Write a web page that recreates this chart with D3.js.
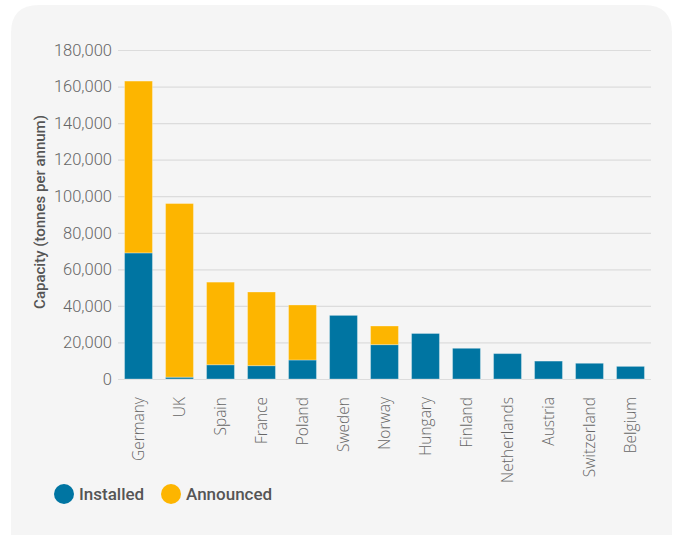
<!DOCTYPE html>
<html>
<head>
<meta charset="utf-8">
<script src="https://cdn.jsdelivr.net/npm/d3@7"></script>
<style>
  html, body { margin: 0; padding: 0; background: #ffffff; }
  #chart { width: 680px; height: 535px; }
  .y-tick text { font-family: Roboto, sans-serif; font-weight: 300; font-size: 16.5px; fill: #666; }
  .x-tick text { font-family: "Open Sans", sans-serif; font-weight: 300; font-size: 15.5px; fill: #666; }
</style>
</head>
<body>
<div id="chart"></div>
<script>
  // ----------------------------DATA-------------------------------//
  const countries = ['Germany', 'UK', 'Spain', 'France', 'Poland', 'Sweden', 'Norway',
    'Hungary', 'Finland', 'Netherlands', 'Austria', 'Switzerland', 'Belgium'];
  const installed = [69000, 1000, 7800, 7300, 10400, 34800, 18800, 24900, 16800, 13900, 9800, 8600, 6900];
  const announced = [94000, 95000, 45200, 40300, 30100, 0, 10200, 0, 0, 0, 0, 0, 0];
  const yTicks = [0, 20000, 40000, 60000, 80000, 100000, 120000, 140000, 160000, 180000];
  const seriesNames = ['Installed', 'Announced'];
  const colors = ['#0075a2', '#fdb500'];

  const width = 680;
  const height = 535;
  const plotLeft = 118;
  const plotRight = 651;
  const plotTop = 50;
  const plotBottom = 379;

  const svg = d3.select('#chart').append('svg')
    .attr('width', width)
    .attr('height', height);

  // card background, rounded top corners
  const r = 28;
  const cx0 = 11, cx1 = 672, cy0 = 5, cy1 = 560;
  svg.append('path')
    .attr('d', `M${cx0},${cy1} L${cx0},${cy0 + r} Q${cx0},${cy0} ${cx0 + r},${cy0} L${cx1 - r},${cy0} Q${cx1},${cy0} ${cx1},${cy0 + r} L${cx1},${cy1} Z`)
    .attr('fill', '#f5f5f5');

  // ----------------------------SCALES-----------------------------//
  const x = d3.scaleBand().domain(countries).range([plotLeft, plotRight]).paddingInner(0.32).paddingOuter(0.16);
  const y = d3.scaleLinear().domain([0, 180000]).range([plotBottom, plotTop]);

  const stackData = countries.map((c, i) => ({ country: c, Installed: installed[i], Announced: announced[i] }));
  const series = d3.stack().keys(seriesNames)(stackData);

  // -----------------------------AXES------------------------------//
  const yAxis = svg.append('g')
    .attr('class', 'y-tick')
    .attr('transform', `translate(${plotLeft},0)`)
    .call(d3.axisLeft(y).tickValues(yTicks).tickSize(0).tickPadding(6)
      .tickFormat(d3.format(',')));
  yAxis.select('.domain').remove();

  svg.append('g')
    .selectAll('line')
    .data(yTicks)
    .join('line')
    .attr('x1', plotLeft)
    .attr('x2', plotRight)
    .attr('y1', d => y(d) + 0.5)
    .attr('y2', d => y(d) + 0.5)
    .attr('stroke', '#dcdcdc')
    .attr('stroke-width', 1.2);

  svg.append('text')
    .attr('transform', `translate(45,212) rotate(-90)`)
    .attr('text-anchor', 'middle')
    .style('font-family', 'Roboto, sans-serif')
    .style('font-weight', 500)
    .style('font-size', '15px')
    .style('fill', '#555')
    .text('Capacity (tonnes per annum)');

  const xAxis = svg.append('g')
    .attr('class', 'x-tick')
    .attr('transform', `translate(0,${plotBottom})`)
    .call(d3.axisBottom(x).tickSize(0).tickPadding(0));
  xAxis.select('.domain').remove();
  xAxis.selectAll('text')
    .attr('transform', 'rotate(-90)')
    .attr('x', -18)
    .attr('y', 0)
    .attr('dy', '0.35em')
    .style('text-anchor', 'end');

  // ----------------------------BARS------------------------------//
  svg.append('g')
    .selectAll('g')
    .data(series)
    .join('g')
    .attr('fill', (d, i) => colors[i])
    .selectAll('rect')
    .data(d => d.filter(v => v[1] > v[0]))
    .join('rect')
    .attr('x', d => x(d.data.country))
    .attr('y', d => y(d[1]))
    .attr('width', x.bandwidth())
    .attr('height', d => y(d[0]) - y(d[1]))
    .attr('stroke', 'rgba(255,255,255,0.3)')
    .attr('stroke-width', 1);

  // ----------------------------LEGEND----------------------------//
  const legendX = [64, 171];
  const legend = svg.append('g')
    .selectAll('g')
    .data(seriesNames)
    .join('g')
    .attr('transform', (d, i) => `translate(${legendX[i]},494)`);
  legend.append('circle')
    .attr('r', 10)
    .attr('fill', (d, i) => colors[i]);
  legend.append('text')
    .attr('x', 15)
    .attr('dy', '0.35em')
    .style('font-family', 'Roboto, sans-serif')
    .style('font-weight', 500)
    .style('font-size', '17px')
    .style('fill', '#555')
    .text(d => d);
</script>
</body>
</html>
